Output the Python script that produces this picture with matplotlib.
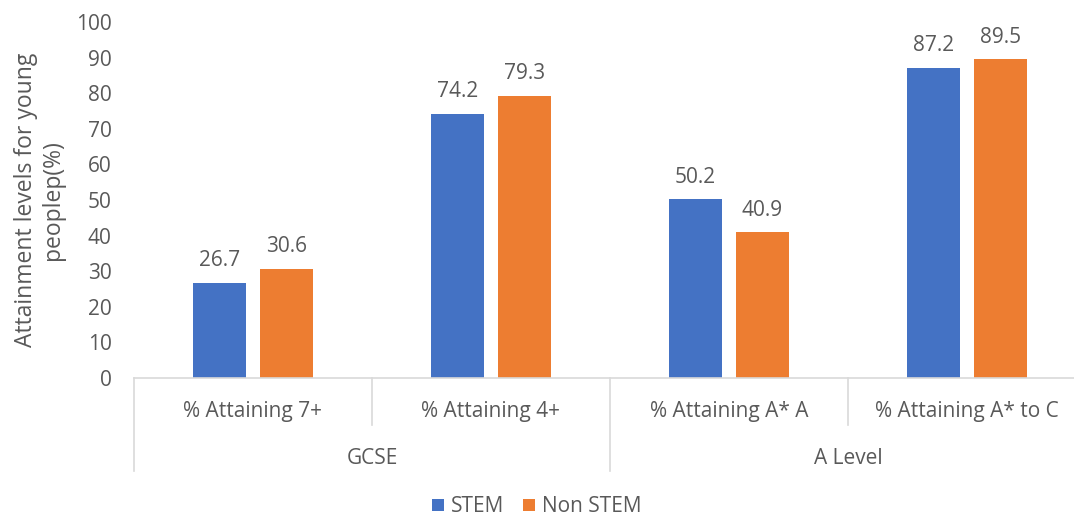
import matplotlib.pyplot as plt
import numpy as np

# attainment by subject type, GCSE and A Level
categories = ["% Attaining 7+", "% Attaining 4+", "% Attaining A* A", "% Attaining A* to C"]
groups = ["GCSE", "A Level"]
stem = [26.7, 74.2, 50.2, 87.2]
non_stem = [30.6, 79.3, 40.9, 89.5]

BLUE = "#4472C4"
ORANGE = "#ED7D31"
TEXT = "#595959"
LINE = "#D9D9D9"
FS = 15

plt.rcParams["font.family"] = ["Open Sans", "DejaVu Sans"]

fig = plt.figure(figsize=(10.74, 5.17), dpi=100)
# plot area runs slightly past the right edge of the canvas
ax = fig.add_axes([134 / 1074, 1 - 378 / 517, (1086 - 134) / 1074, (378 - 22) / 517])

x = np.arange(len(categories))
w = 0.223
off = 0.141
b1 = ax.bar(x - off, stem, w, color=BLUE, label="STEM")
b2 = ax.bar(x + off, non_stem, w, color=ORANGE, label="Non STEM")

for bars, vals in ((b1, stem), (b2, non_stem)):
    for rect, v in zip(bars, vals):
        ax.annotate(f"{v:.1f}", (rect.get_x() + rect.get_width() / 2, v),
                    xytext=(0, 12), textcoords="offset points",
                    ha="center", va="baseline", fontsize=FS, color=TEXT)

ax.set_xlim(-0.5, len(categories) - 0.5)
ax.set_ylim(0, 100)
ax.set_yticks(range(0, 101, 10))
ax.tick_params(axis="y", length=0, labelsize=FS, labelcolor=TEXT, pad=16)
ax.set_xticks([])
for s in ("top", "right", "left"):
    ax.spines[s].set_visible(False)
ax.spines["bottom"].set_color(LINE)
ax.spines["bottom"].set_linewidth(1.2)

ax.set_ylabel("Attainment levels for young\npeoplep(%)", fontsize=16.5, color=TEXT,
              labelpad=8, linespacing=1.15)

# two-level category axis drawn below the plot
trans = ax.get_xaxis_transform()
px = 1 / 356  # one pixel in axes height units
for i in range(len(categories) + 1):
    depth = 93 if i % 2 == 0 else 47
    ax.plot([i - 0.5, i - 0.5], [0, -depth * px], transform=trans, color=LINE,
            lw=1.2, clip_on=False)
for i, c in enumerate(categories):
    ax.text(i, -34 * px, c, transform=trans, ha="center", va="center",
            fontsize=FS, color=TEXT)
for g, name in enumerate(groups):
    ax.text(2 * g + 0.5, -81 * px, name, transform=trans, ha="center", va="center",
            fontsize=FS, color=TEXT)

fig.legend(handles=[b1, b2], loc="center", bbox_to_anchor=(0.5, 1 - 507 / 517),
           ncol=2, frameon=False, fontsize=FS, labelcolor=TEXT,
           handlelength=0.55, handleheight=0.55, handletextpad=0.35, columnspacing=0.9)

fig.savefig("out.png", dpi=100)
